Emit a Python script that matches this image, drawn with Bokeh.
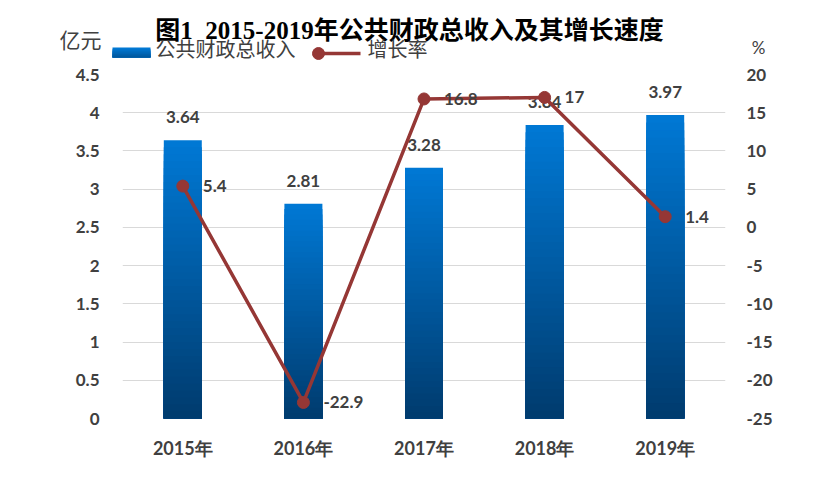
from bokeh.plotting import figure
from bokeh.layouts import column, row
from bokeh.models import FactorRange, Range1d, LinearAxis, FixedTicker
from bokeh.core.properties import value
from bokeh.embed import file_html
from bokeh.resources import INLINE

# ---- data ----
years = ["2015年", "2016年", "2017年", "2018年", "2019年"]
revenue = [3.64, 2.81, 3.28, 3.84, 3.97]          # 亿元
growth = [5.4, -22.9, 16.8, 17, 1.4]              # %
revenue_labels = ["3.64", "2.81", "3.28", "3.84", "3.97"]
growth_labels = ["5.4", "-22.9", "16.8", "17", "1.4"]
left_ticks = [0, 0.5, 1, 1.5, 2, 2.5, 3, 3.5, 4, 4.5]
right_ticks = [-25, -20, -15, -10, -5, 0, 5, 10, 15, 20]
title_text = "图1\u00a0\u00a02015-2019年公共财政总收入及其增长速度"
legend_labels = ["公共财政总收入", "增长率"]

TXT = "#404040"
FONT = "Lato"
CJK = "Noto Sans CJK SC"
LINE_C = "#953735"
TOP_C = (0, 120, 212)
BOT_C = (0, 58, 108)


def grad(t):
    c = tuple(int(round(BOT_C[j] + (TOP_C[j] - BOT_C[j]) * t)) for j in range(3))
    return "#%02x%02x%02x" % c


# ---------------- header (title, units, legend) ----------------
TOP_H = 63
h = figure(width=816, height=TOP_H, x_range=Range1d(0, 816), y_range=Range1d(TOP_H, 0),
           output_backend="svg", toolbar_location=None, min_border=0,
           x_axis_location=None, y_axis_location=None)
h.outline_line_color = None
h.xgrid.visible = False
h.ygrid.visible = False
h.text(x=[409], y=[30], text=[title_text], text_align="center", text_baseline="middle",
       text_font=value("Liberation Serif, Noto Sans CJK SC"), text_font_style="bold",
       text_font_size="25px", text_color="#000000")
h.text(x=[80], y=[38], text=["亿元"], text_align="center", text_baseline="middle",
       text_font=value(CJK), text_font_size="21px", text_color=TXT)
h.text(x=[758], y=[47], text=["%"], text_align="center", text_baseline="middle",
       text_font=value(FONT), text_font_size="17px", text_color=TXT)
# legend swatch (gradient) for bars, nested so no seams
nb = 6
h.quad(left=[112] * nb, right=[150] * nb,
       top=[47 + 10 * k / nb for k in range(nb)], bottom=[57] * nb,
       fill_color=[grad(1 - 0.6 * k / nb) for k in range(nb)], line_color=None)
h.text(x=[155], y=[48], text=[legend_labels[0]], text_align="left", text_baseline="middle",
       text_font=value(CJK), text_font_size="20px", text_color=TXT)
h.line(x=[318, 360], y=[53, 53], line_color=LINE_C, line_width=3.5)
h.scatter(x=[318], y=[53], size=12, fill_color=LINE_C, line_color=LINE_C)
h.text(x=[367], y=[48], text=[legend_labels[1]], text_align="left", text_baseline="middle",
       text_font=value(CJK), text_font_size="20px", text_color=TXT)

# ---------------- main chart ----------------
p = figure(width=816, height=486 - TOP_H, x_range=FactorRange(*years),
           y_range=Range1d(0, 4.5), output_backend="svg", toolbar_location=None,
           min_border_left=122, min_border_right=91, min_border_top=74 - TOP_H,
           min_border_bottom=68)
p.outline_line_color = None
p.extra_y_ranges = {"r": Range1d(-25, 20)}

for ax in [p.xaxis[0], p.yaxis[0]]:
    ax.axis_line_color = None
    ax.major_tick_line_color = None
    ax.minor_tick_line_color = None
    ax.major_label_text_font = FONT
    ax.major_label_text_font_style = "bold"
    ax.major_label_text_color = TXT
p.xaxis.major_label_text_font_size = "18px"
p.xaxis.major_label_standoff = 12
p.yaxis.major_label_text_font_size = "17px"
p.yaxis.major_label_standoff = 17
p.yaxis.ticker = FixedTicker(ticks=left_ticks)
p.yaxis.major_label_overrides = {t: ("%g" % t) for t in left_ticks}

ra = LinearAxis(y_range_name="r", ticker=FixedTicker(ticks=right_ticks))
ra.axis_line_color = None
ra.major_tick_line_color = None
ra.minor_tick_line_color = None
ra.major_label_text_font = FONT
ra.major_label_text_font_style = "bold"
ra.major_label_text_color = TXT
ra.major_label_text_font_size = "17px"
ra.major_label_standoff = 15
ra.major_label_overrides = {t: ("%g" % t) for t in right_ticks}
p.add_layout(ra, "right")

p.xgrid.grid_line_color = None
p.ygrid.grid_line_color = "#d9d9d9"
p.ygrid.grid_line_width = 1

# gradient bars: nested bars drawn tallest first (top colour) to shortest (bottom colour)
N = 40
gx, gtop, gcol = [], [], []
for k in range(N):
    f = (N - k) / N
    col = grad(f)
    for yr, v in zip(years, revenue):
        gx.append(yr)
        gtop.append(v * f)
        gcol.append(col)
p.vbar(x=gx, top=gtop, bottom=0, width=0.315, fill_color=gcol, line_color=None)

p.text(x=years, y=revenue, text=revenue_labels, text_align="center",
       text_baseline="middle", y_offset=-23, text_font=value(FONT),
       text_font_style="bold", text_font_size="17px", text_color=TXT)

p.line(x=years, y=growth, y_range_name="r", line_color=LINE_C, line_width=3.5)
p.scatter(x=years, y=growth, y_range_name="r", size=12, fill_color=LINE_C,
          line_color=LINE_C)
p.text(x=years, y=growth, y_range_name="r", text=growth_labels, text_align="left",
       text_baseline="middle", x_offset=20, text_font=value(FONT),
       text_font_style="bold", text_font_size="17px", text_color=TXT)

layout = column(row(h), row(p), spacing=0)
open("out.html", "w").write(file_html(layout, INLINE))
